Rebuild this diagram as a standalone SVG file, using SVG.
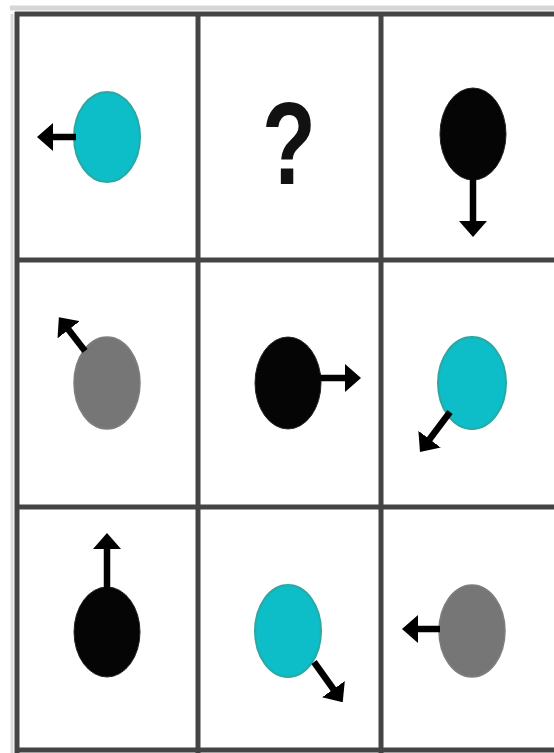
<svg xmlns="http://www.w3.org/2000/svg" width="554" height="753" viewBox="0 0 554 753">
  <style>
    .grid { stroke: #444444; stroke-width: 5; fill: none; }
    .cyan { fill: #0dbdc8; stroke: #2aa8a4; stroke-width: 2; }
    .gray { fill: #767676; stroke: #7e7e7e; stroke-width: 1.5; }
    .black { fill: #050505; stroke: #222; stroke-width: 1; }
    .arrow { stroke: #000; stroke-width: 6.5; fill: none; marker-end: url(#head); }
    .q { font-family: "Liberation Sans", Arial, sans-serif; font-weight: bold; font-size: 116px; fill: #111; }
  </style>
  <defs>
    <marker id="head" viewBox="0 0 16 28" refX="1" refY="14" markerWidth="16" markerHeight="28" markerUnits="userSpaceOnUse" orient="auto">
      <path d="M0,0 L16,14 L0,28 Z" fill="#000"/>
    </marker>
  </defs>
  <rect width="554" height="753" fill="#ffffff"/>

  <g id="grid">
    <line x1="10" y1="8" x2="554" y2="8" stroke="#d6d6d6" stroke-width="5"/>
    <line x1="12" y1="14" x2="12" y2="753" stroke="#dcdcdc" stroke-width="3"/>
    <line class="grid" x1="15" y1="14" x2="554" y2="14"/>
    <line class="grid" x1="17" y1="12" x2="17" y2="753"/>
    <line class="grid" x1="198" y1="14" x2="198" y2="753"/>
    <line class="grid" x1="381" y1="14" x2="381" y2="753" stroke="#5a5a5a"/>
    <line class="grid" x1="15" y1="260" x2="554" y2="260" stroke="#555555"/>
    <line class="grid" x1="15" y1="507" x2="554" y2="507"/>
    <line class="grid" x1="15" y1="750" x2="554" y2="750"/>
  </g>

  <g id="cell-r1c1"><ellipse class="cyan" cx="107" cy="137" rx="33" ry="45"/></g>
  <g id="cell-r1c2"><text class="q" text-anchor="middle" transform="translate(289,184) scale(0.76,1)">?</text></g>
  <g id="cell-r1c3"><ellipse class="black" cx="473" cy="134" rx="33" ry="46"/></g>
  <g id="cell-r2c1"><ellipse class="gray" cx="107" cy="383" rx="33" ry="46"/></g>
  <g id="cell-r2c2"><ellipse class="black" cx="288" cy="383" rx="33" ry="46"/></g>
  <g id="cell-r2c3"><ellipse class="cyan" cx="472" cy="383" rx="34" ry="46"/></g>
  <g id="cell-r3c1"><ellipse class="black" cx="107" cy="632" rx="33" ry="45"/></g>
  <g id="cell-r3c2"><ellipse class="cyan" cx="288" cy="631" rx="33" ry="46"/></g>
  <g id="cell-r3c3"><ellipse class="gray" cx="472" cy="631" rx="33" ry="46"/></g>

  <g id="connectors">
    <line class="arrow" x1="76" y1="137" x2="52" y2="137"/>
    <line class="arrow" x1="473" y1="179" x2="473" y2="222"/>
    <line class="arrow" x1="85" y1="351" x2="68" y2="329"/>
    <line class="arrow" x1="320" y1="378" x2="346" y2="378"/>
    <line class="arrow" x1="450" y1="412" x2="429" y2="440"/>
    <line class="arrow" x1="107" y1="588" x2="107" y2="548"/>
    <line class="arrow" x1="314" y1="662" x2="334" y2="690"/>
    <line class="arrow" x1="440" y1="629" x2="417" y2="629"/>
  </g>
</svg>
